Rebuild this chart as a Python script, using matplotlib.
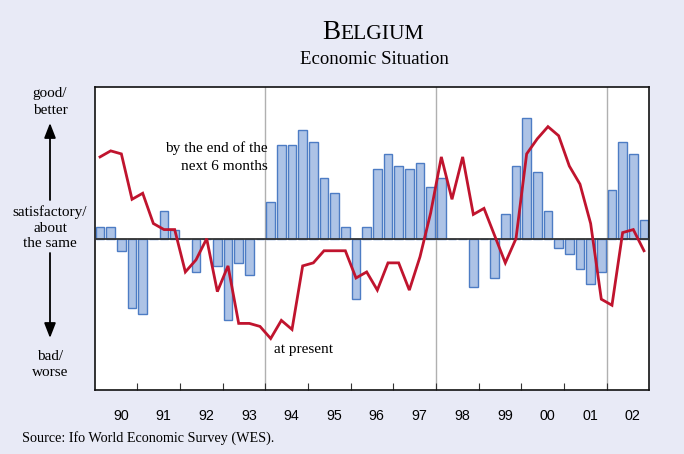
import matplotlib
matplotlib.use("Agg")
import matplotlib.pyplot as plt
from matplotlib.patches import FancyArrowPatch
import numpy as np

# Quarterly data 1990Q1 .. 2002Q4 (balance scale, -100 .. 100)
years = ["90", "91", "92", "93", "94", "95", "96", "97", "98", "99", "00", "01", "02"]

expectations = [8, 8, -8, -46, -50, 0, 18, 6, 0, -22, 0, -18, -54, -16, -24, 0,
                24, 62, 62, 72, 64, 40, 30, 8, -40, 8, 46, 56, 48, 46, 50, 34,
                40, 0, 0, -32, 0, -26, 16, 48, 80, 44, 18, -6, -10, -20, -30, -22,
                32, 64, 56, 12]

present = [54, 58, 56, 26, 30, 10, 6, 6, -22, -14, 0, -35, -18, -56, -56, -58,
           -66, -54, -60, -18, -16, -8, -8, -8, -26, -22, -34, -16, -16, -34, -12, 17,
           54, 26, 54, 16, 20, 2, -16, 0, 56, 66, 74, 68, 48, 36, 10, -40,
           -44, 4, 6, -8]

BG = "#E8EAF6"
BAR_FACE = "#ADC3E6"
BAR_EDGE = "#4D7CC4"
RED = "#C0142E"

W, H = 684, 454
fig = plt.figure(figsize=(W / 100, H / 100), dpi=100, facecolor=BG)

def fx(px):
    return px / W

def fy(py):
    return 1 - py / H

ax = fig.add_axes([fx(94.7), fy(390), fx(649.3) - fx(94.7), fy(87.3) - fy(390)])
ax.set_facecolor("white")

x = np.arange(len(expectations))
ax.bar(x, expectations, width=0.8, color=BAR_FACE, edgecolor=BAR_EDGE, linewidth=1.0, zorder=2)
ax.axhline(0, color="#333333", linewidth=1.3, zorder=3)
for v in [15.5, 31.5, 47.5]:
    ax.axvline(v, color="#B0B0B0", linewidth=1.0, zorder=1)
ax.plot(x, present, color=RED, linewidth=2.0, zorder=4, solid_joinstyle="miter")

ax.set_xlim(-0.5, len(expectations) - 0.5)
ax.set_ylim(-100, 100)
ax.set_yticks([])
ax.set_xticks(np.arange(3.5, len(expectations) - 1, 4))
ax.set_xticks(np.arange(len(years)) * 4 + 1.95, minor=True)
ax.set_xticklabels([])
ax.set_xticklabels(years, minor=True)
ax.tick_params(axis="x", which="major", direction="in", length=5, width=0.8, color="#333333")
ax.tick_params(axis="x", which="minor", length=0, pad=14, labelsize=10.3)
for lab in ax.get_xticklabels(minor=True):
    lab.set_fontfamily("Liberation Sans")
for s in ax.spines.values():
    s.set_color("#111111")
    s.set_linewidth(1.2)

serif = "Liberation Serif"
# Annotations inside plot
fig.text(fx(268), fy(148), "by the end of the", ha="right", va="center", fontsize=11, family=serif)
fig.text(fx(268), fy(166), "next 6 months", ha="right", va="center", fontsize=11, family=serif)
fig.text(fx(274), fy(349), "at present", ha="left", va="center", fontsize=11, family=serif)

# Title with small caps look
t1 = fig.text(fx(322), fy(39), "B", ha="left", va="baseline", fontsize=19.5, family=serif)
fig.canvas.draw()
bb = t1.get_window_extent()
fig.text(bb.x1 / W, fy(39), "ELGIUM", ha="left", va="baseline", fontsize=15.5, family=serif)
fig.text(fx(374), fy(59), "Economic Situation", ha="center", va="center", fontsize=13.5, family=serif)

# Left side labels
lx = fx(50)
fig.text(lx, fy(94), "good/", ha="center", va="center", fontsize=11, family=serif)
fig.text(lx, fy(110), "better", ha="center", va="center", fontsize=11, family=serif)
fig.text(lx, fy(212), "satisfactory/", ha="center", va="center", fontsize=11, family=serif)
fig.text(lx, fy(228), "about", ha="center", va="center", fontsize=11, family=serif)
fig.text(lx, fy(244), "the same", ha="center", va="center", fontsize=11, family=serif)
fig.text(lx, fy(357), "bad/", ha="center", va="center", fontsize=11, family=serif)
fig.text(lx, fy(373), "worse", ha="center", va="center", fontsize=11, family=serif)

arrow_kw = dict(arrowstyle="-|>,head_length=0.9,head_width=0.35", color="black",
                linewidth=1.3, mutation_scale=10, shrinkA=0, shrinkB=0)
fig.add_artist(FancyArrowPatch((lx, fy(200)), (lx, fy(123)),
                               transform=fig.transFigure, **arrow_kw))
fig.add_artist(FancyArrowPatch((lx, fy(253)), (lx, fy(338)),
                               transform=fig.transFigure, **arrow_kw))

fig.text(fx(22), fy(438), "Source: Ifo World Economic Survey (WES).", ha="left", va="center",
         fontsize=10.2, family=serif)

fig.savefig("out.png", dpi=100, facecolor=BG)
